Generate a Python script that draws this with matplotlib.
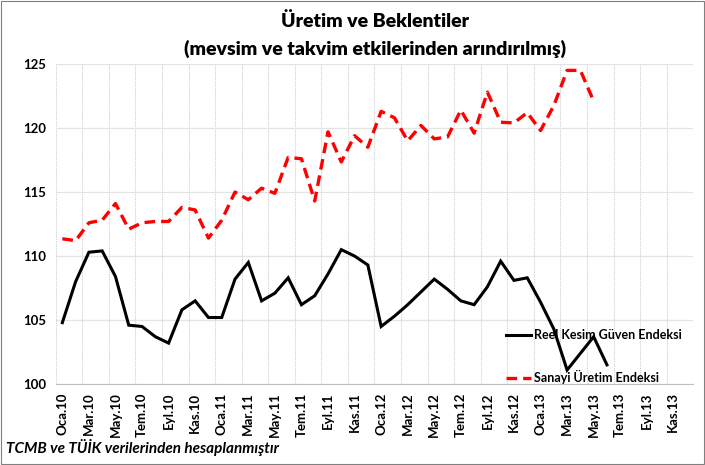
import numpy as np
import matplotlib
matplotlib.use("Agg")
import matplotlib.pyplot as plt
from matplotlib.patches import Rectangle

plt.rcParams['font.family'] = ['Lato', 'DejaVu Sans']

# aylar: Oca.10 - Ara.13
aylar = ["Oca", "Şub", "Mar", "Nis", "May", "Haz", "Tem", "Ağu", "Eyl", "Eki", "Kas", "Ara"]
yillar = ["10", "11", "12", "13"]
kategoriler = [f"{a}.{y}" for y in yillar for a in aylar]

reel_kesim = [104.8, 108.0, 110.3, 110.4, 108.4, 104.6, 104.5, 103.7, 103.2, 105.8,
              106.5, 105.2, 105.2, 108.2, 109.5, 106.5, 107.1, 108.3, 106.2, 106.9,
              108.6, 110.5, 110.0, 109.3, 104.5, 105.3, 106.2, 107.2, 108.2, 107.4,
              106.5, 106.2, 107.6, 109.6, 108.1, 108.3, 106.4, 104.3, 101.1, 102.4,
              103.7, 101.5]

sanayi = [111.35, 111.2, 112.6, 112.8, 114.1, 112.1, 112.6, 112.7, 112.7, 113.8,
          113.6, 111.4, 112.8, 115.0, 114.4, 115.3, 114.9, 117.7, 117.6, 114.3,
          119.7, 117.35, 119.4, 118.5, 121.3, 120.8, 119.0, 120.2, 119.15, 119.3,
          121.4, 119.6, 122.8, 120.45, 120.4, 121.2, 119.8, 121.75, 124.5, 124.5,
          122.1]

fig = plt.figure(figsize=(7.05, 4.65), dpi=100)
ax = fig.add_axes([0.079, 0.174, 0.9044, 0.6884])

x = np.arange(len(kategoriler))
ax.plot(x[:len(reel_kesim)], reel_kesim, color='black', lw=2.2, zorder=4,
        solid_joinstyle='miter', label="Reel Kesim Güven Endeksi")
ax.plot(x[:len(sanayi)], sanayi, color='#ff0000', lw=2.4, ls=(0, (3.2, 1.8)), zorder=4,
        label="Sanayi Üretim Endeksi")

ax.set_xlim(-0.5, len(kategoriler) - 0.5)
ax.set_ylim(100, 125)
ax.set_yticks(np.arange(100, 126, 5))
ax.set_xticks(x[::2])
ax.set_xticklabels(kategoriler[::2], rotation=90, fontsize=9.5, fontweight='bold')
ax.set_xticks(np.arange(-0.5, len(kategoriler), 2), minor=True)
for lab in ax.get_yticklabels():
    lab.set_fontweight('bold')
    lab.set_fontsize(9.5)
ax.tick_params(axis='both', length=0, which='both')
ax.tick_params(axis='y', pad=7)
ax.tick_params(axis='x', pad=6)

ax.grid(axis='y', color='#e4e4e4', lw=0.9)
ax.grid(axis='x', which='minor', color='#cfcfcf', lw=0.8, ls=(0, (1, 1)))
ax.set_axisbelow(True)
for s in ['top', 'right', 'left']:
    ax.spines[s].set_visible(False)
ax.spines['bottom'].set_color('#bfbfbf')

leg = ax.legend(loc='lower right', bbox_to_anchor=(1.0, -0.035), frameon=False,
                prop={'weight': 'bold', 'size': 9}, handlelength=2.0,
                handletextpad=0.3, labelspacing=2.3)
leg.set_zorder(2)

fig.text(0.532, 0.955, "Üretim ve Beklentiler", ha='center', va='center',
         fontsize=14, fontweight='heavy')
fig.text(0.532, 0.895, "(mevsim ve takvim etkilerinden arındırılmış)", ha='center',
         va='center', fontsize=14, fontweight='heavy')
fig.text(0.008, 0.038, "TCMB ve TÜİK verilerinden hesaplanmıştır", ha='left',
         va='center', fontsize=11, fontweight='bold', style='italic')

fig.add_artist(Rectangle((0.001, 0.002), 0.997, 0.996, transform=fig.transFigure,
                         fill=False, edgecolor='#808080', lw=0.8))

fig.savefig("out.png", dpi=100)
